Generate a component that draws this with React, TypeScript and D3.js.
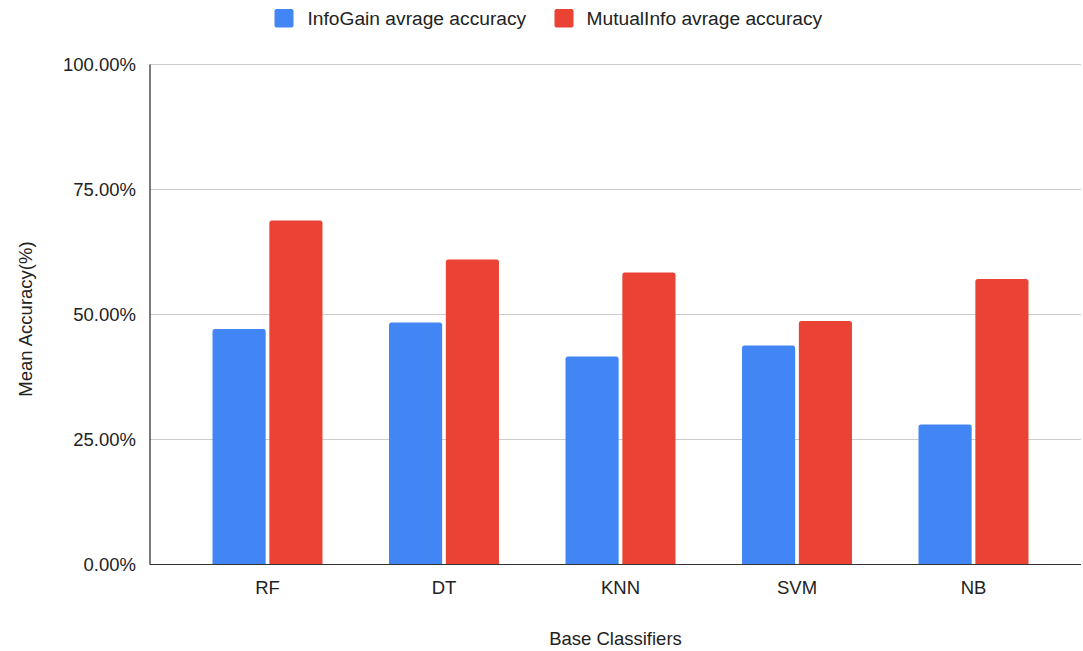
import React from "react";
import * as d3 from "d3";

const categories = ["RF", "DT", "KNN", "SVM", "NB"];
const seriesNames = ["InfoGain avrage accuracy", "MutualInfo avrage accuracy"];
const infoGain = [47.1, 48.4, 41.6, 43.8, 28.0];
const mutualInfo = [68.8, 61.0, 58.4, 48.7, 57.1];
const yTicks = [0, 25, 50, 75, 100];
const colors = ["#4285F4", "#EA4335"];

const W = 1083;
const H = 651;
const FONT = "Arial, 'Liberation Sans', sans-serif";
const FS = 18.5;
const LEGEND_FS = 19.2;

export default function App() {
  const left = 150;
  const right = 1081;
  const top = 64.5;
  const bottom = 564.5;

  const y = d3.scaleLinear().domain([0, 100]).range([bottom, top]);
  const x = d3
    .scaleBand<string>()
    .domain(categories)
    .range([179.25, 1061.75])
    .paddingInner(0.377)
    .paddingOuter(0.1885);
  const xs = d3
    .scaleBand<string>()
    .domain(seriesNames)
    .range([0, x.bandwidth()])
    .paddingInner(0.065);

  const series = [infoGain, mutualInfo];
  const r = 2.5;

  const barPath = (x0: number, w: number, yTop: number, yBot: number) => {
    const p = d3.path();
    p.moveTo(x0, yBot);
    p.lineTo(x0, yTop + r);
    p.quadraticCurveTo(x0, yTop, x0 + r, yTop);
    p.lineTo(x0 + w - r, yTop);
    p.quadraticCurveTo(x0 + w, yTop, x0 + w, yTop + r);
    p.lineTo(x0 + w, yBot);
    p.closePath();
    return p.toString();
  };

  const legendItems = [
    { name: seriesNames[0], sx: 274.5, tx: 307.5 },
    { name: seriesNames[1], sx: 554.5, tx: 586.5 },
  ];

  return (
    <svg
      width={W}
      height={H}
      style={{ position: "absolute", left: 0, top: 0, background: "#fff" }}
      fontFamily={FONT}
    >
      <rect x={0} y={0} width={W} height={H} fill="#fff" />
      {/* legend */}
      {legendItems.map((it, i) => (
        <g key={it.name}>
          <rect x={it.sx} y={9} width={19} height={18.5} rx={2} fill={colors[i]} />
          <text x={it.tx} y={18} dominantBaseline="central" fontSize={LEGEND_FS} fill="#222">
            {it.name}
          </text>
        </g>
      ))}
      {/* gridlines and y tick labels */}
      {yTicks.map((t) => (
        <g key={t}>
          {t > 0 && (
            <line x1={left} x2={right} y1={y(t)} y2={y(t)} stroke="#cccccc" strokeWidth={1} />
          )}
          <text
            x={136}
            y={y(t)}
            textAnchor="end"
            dominantBaseline="central"
            fontSize={FS}
            fill="#222"
          >
            {t.toFixed(2) + "%"}
          </text>
        </g>
      ))}
      {/* bars */}
      {categories.map((c, ci) => (
        <g key={c}>
          {series.map((vals, si) => {
            const x0 = (x(c) as number) + (xs(seriesNames[si]) as number);
            return (
              <path
                key={si}
                d={barPath(x0, xs.bandwidth(), y(vals[ci]), bottom)}
                fill={colors[si]}
              />
            );
          })}
          <text
            x={(x(c) as number) + x.bandwidth() / 2}
            y={587}
            textAnchor="middle"
            dominantBaseline="central"
            fontSize={FS}
            fill="#222"
          >
            {c}
          </text>
        </g>
      ))}
      {/* axes */}
      <line x1={left} x2={right} y1={bottom} y2={bottom} stroke="#333" strokeWidth={1.2} />
      <line x1={left} x2={left} y1={top} y2={bottom} stroke="#222" strokeWidth={1.2} />
      {/* axis titles */}
      <text
        x={615.5}
        y={638}
        textAnchor="middle"
        dominantBaseline="central"
        fontSize={FS}
        fill="#222"
      >
        Base Classifiers
      </text>
      <text
        transform={`translate(25,319) rotate(-90)`}
        textAnchor="middle"
        dominantBaseline="central"
        fontSize={FS}
        fill="#222"
      >
        Mean Accuracy(%)
      </text>
    </svg>
  );
}
